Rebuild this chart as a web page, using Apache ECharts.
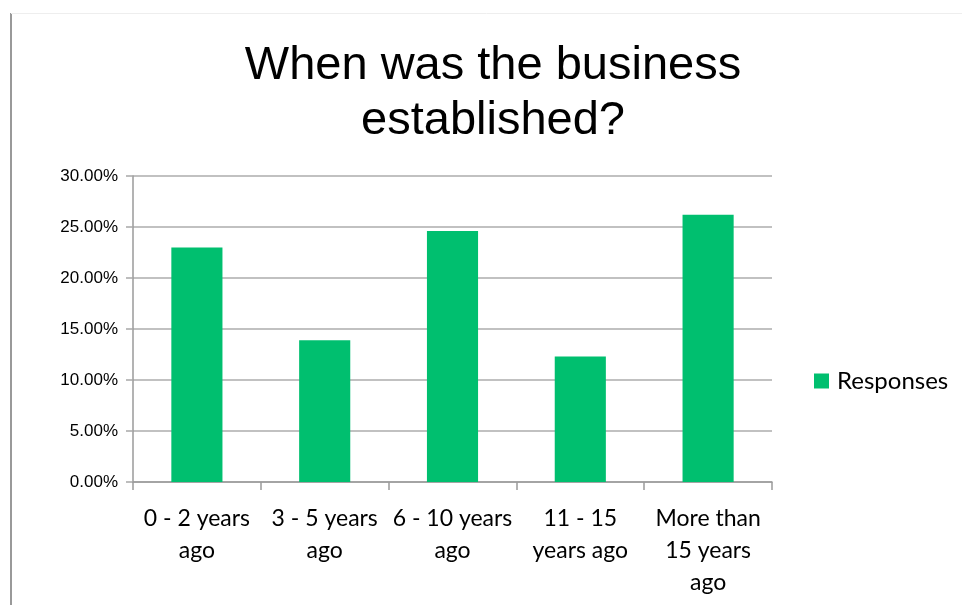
<!DOCTYPE html>
<html>
<head>
<meta charset="utf-8">
<script src="https://cdn.jsdelivr.net/npm/echarts@6/dist/echarts.min.js"></script>
<style>
  html, body { margin: 0; padding: 0; background: #fff; }
  #chart { width: 963px; height: 605px; }
</style>
</head>
<body>
<div id="chart"></div>
<script>
// Survey: age of the business
const categories = [
  '0 - 2 years\nago',
  '3 - 5 years\nago',
  '6 - 10 years\nago',
  '11 - 15\nyears ago',
  'More than\n15 years\nago'
];
const responses = [23.0, 13.9, 24.6, 12.3, 26.2];
const seriesName = 'Responses';
const titleText = 'When was the business\nestablished?';

const chart = echarts.init(document.getElementById('chart'), null, { renderer: 'canvas' });

chart.setOption({
  backgroundColor: '#ffffff',
  animation: false,
  title: {
    text: titleText,
    left: 493,
    top: 39,
    padding: 0,
    textAlign: 'center',
    textStyle: {
      fontFamily: 'Liberation Sans, Arial, sans-serif',
      fontSize: 47,
      fontWeight: 'normal',
      lineHeight: 55,
      color: '#000'
    }
  },
  legend: {
    data: [seriesName],
    orient: 'vertical',
    left: 814,
    top: 369,
    padding: 0,
    icon: 'rect',
    itemWidth: 15,
    itemHeight: 15,
    textStyle: {
      fontFamily: 'Lato, sans-serif',
      fontSize: 24,
      color: '#000',
      padding: [0, 0, 0, 3]
    }
  },
  grid: {
    left: 133,
    right: 191,
    top: 176,
    bottom: 123,
    containLabel: false
  },
  xAxis: {
    type: 'category',
    data: categories,
    axisLine: { lineStyle: { color: '#9a9a9a', width: 1.5 } },
    axisTick: { show: true, length: 8, lineStyle: { color: '#9a9a9a', width: 1.5 } },
    axisLabel: {
      interval: 0,
      margin: 21,
      fontFamily: 'Lato, sans-serif',
      fontSize: 23,
      lineHeight: 32,
      color: '#000'
    }
  },
  yAxis: {
    type: 'value',
    min: 0,
    max: 30,
    interval: 5,
    axisLine: { show: true, lineStyle: { color: '#9a9a9a', width: 1.5 } },
    axisTick: { show: true, length: 7, lineStyle: { color: '#a8a8a8', width: 1.5 } },
    splitLine: { show: true, lineStyle: { color: '#acacac', width: 1.5 } },
    axisLabel: {
      margin: 15,
      formatter: v => v.toFixed(2) + '%',
      fontFamily: 'Liberation Sans, Arial, sans-serif',
      fontSize: 17,
      color: '#000'
    }
  },
  series: [{
    name: seriesName,
    type: 'bar',
    data: responses,
    barWidth: '40%',
    itemStyle: { color: '#00BF6F' }
  }],
  graphic: [
    {
      type: 'line',
      shape: { x1: 11, y1: 13, x2: 11, y2: 605 },
      style: { stroke: '#999', lineWidth: 2 }
    },
    {
      type: 'line',
      shape: { x1: 11, y1: 13.5, x2: 962, y2: 13.5 },
      style: { stroke: '#eeeeee', lineWidth: 1 }
    }
  ]
});
</script>
</body>
</html>
